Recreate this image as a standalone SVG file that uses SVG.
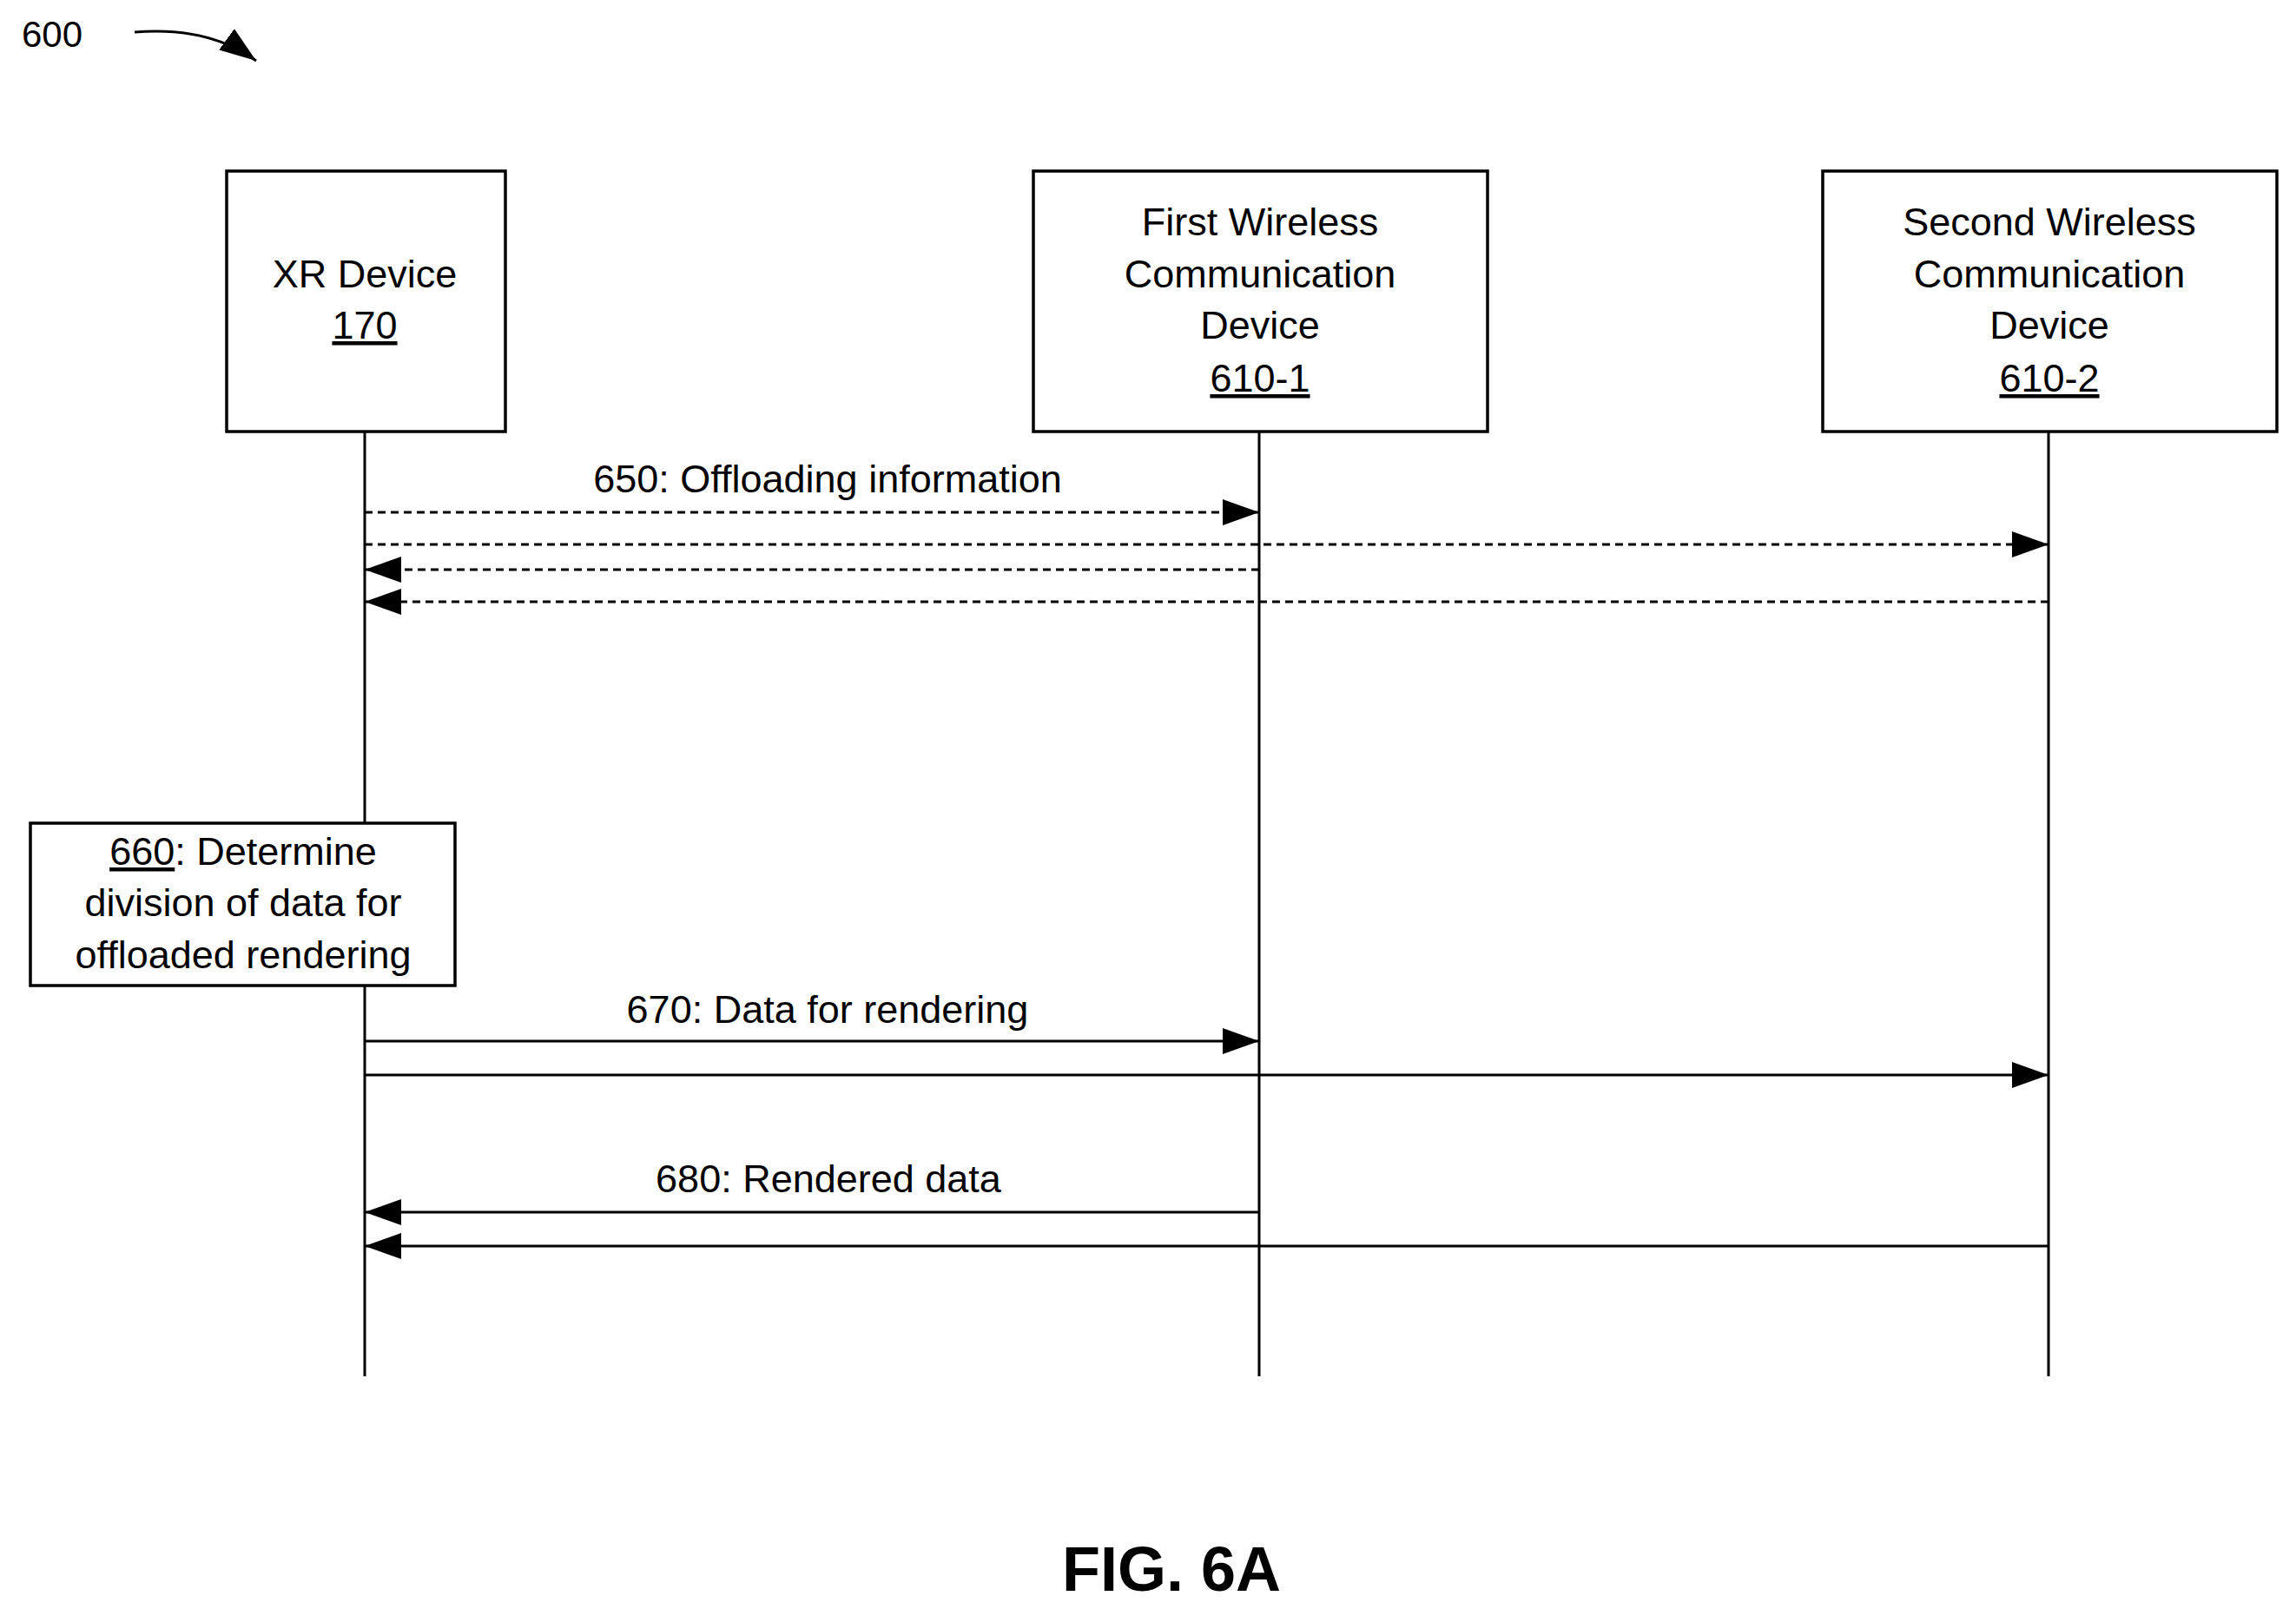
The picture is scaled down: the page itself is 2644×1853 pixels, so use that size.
<svg xmlns="http://www.w3.org/2000/svg" width="2644" height="1853" viewBox="0 0 2644 1853">
<style>
text{font-family:"Liberation Sans",Arial,sans-serif;font-size:45px;fill:#000;text-anchor:middle}
.box{fill:#fff;stroke:#000;stroke-width:3.5}
.life{stroke:#000;stroke-width:3}
.msg{stroke:#000;stroke-width:3;fill:none}
.dash{stroke-dasharray:9 6}
</style>
<defs>
<marker id="ah" markerWidth="42" markerHeight="30" refX="42" refY="15" orient="auto" markerUnits="userSpaceOnUse"><path d="M0,0 L42,15 L0,30 Z" fill="#000"/></marker>
</defs>
<rect width="2644" height="1853" fill="#fff"/>
<text x="60" y="54" style="font-size:42px">600</text>
<path d="M155,37 Q240,30 295,70" class="msg" marker-end="url(#ah)"/>
<g id="lifelines">
<line class="life" x1="420" y1="497" x2="420" y2="1585"/>
<line class="life" x1="1450" y1="497" x2="1450" y2="1585"/>
<line class="life" x1="2359" y1="497" x2="2359" y2="1585"/>
</g>
<g id="xr"><rect class="box" x="261" y="197" width="321" height="300"/>
<text x="420" y="331">XR Device</text><text x="420" y="390" text-decoration="underline">170</text></g>
<g id="first"><rect class="box" x="1190" y="197" width="523" height="300"/>
<text x="1451" y="271">First Wireless</text><text x="1451" y="331">Communication</text><text x="1451" y="390">Device</text><text x="1451" y="451" text-decoration="underline">610-1</text></g>
<g id="second"><rect class="box" x="2099" y="197" width="523" height="300"/>
<text x="2360" y="271">Second Wireless</text><text x="2360" y="331">Communication</text><text x="2360" y="390">Device</text><text x="2360" y="451" text-decoration="underline">610-2</text></g>
<g id="step660"><rect class="box" x="35" y="948" width="489" height="187"/>
<text x="280" y="996"><tspan text-decoration="underline">660</tspan>: Determine</text>
<text x="280" y="1055">division of data for</text>
<text x="280" y="1115">offloaded rendering</text></g>
<g id="connectors">
<path class="msg dash" d="M420,590 H1450" marker-end="url(#ah)"/>
<path class="msg dash" d="M420,627 H2359" marker-end="url(#ah)"/>
<path class="msg dash" d="M1450,656 H420" marker-end="url(#ah)"/>
<path class="msg dash" d="M2359,693 H420" marker-end="url(#ah)"/>
<path class="msg" d="M420,1199 H1450" marker-end="url(#ah)"/>
<path class="msg" d="M420,1238 H2359" marker-end="url(#ah)"/>
<path class="msg" d="M1450,1396 H420" marker-end="url(#ah)"/>
<path class="msg" d="M2359,1435 H420" marker-end="url(#ah)"/>
<text x="953" y="567">650: Offloading information</text>
<text x="953" y="1178">670: Data for rendering</text>
<text x="954" y="1373">680: Rendered data</text>
</g>
<text x="1349" y="1832" style="font-size:72px;font-weight:bold">FIG. 6A</text>
</svg>
